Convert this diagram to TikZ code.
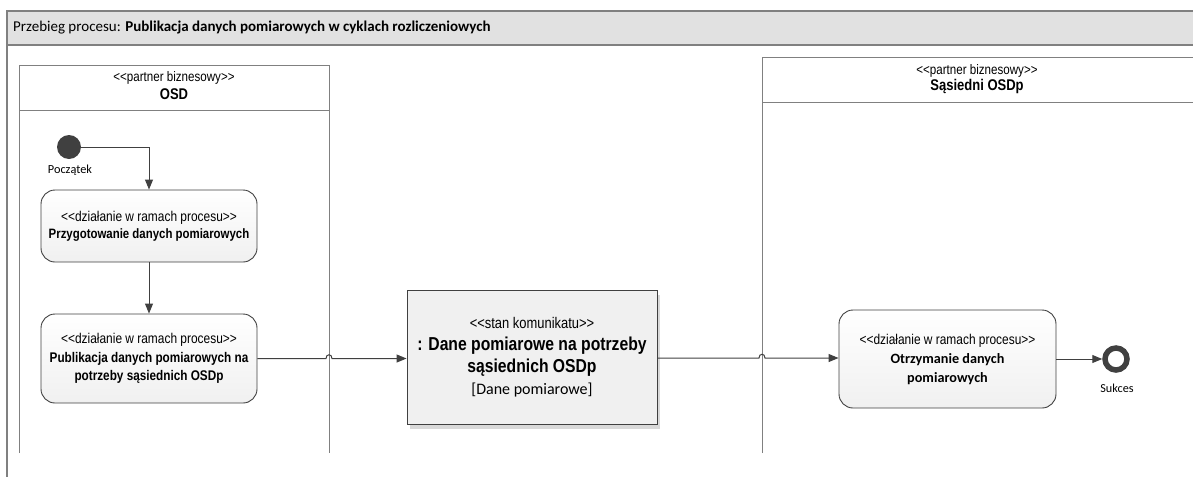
\documentclass[tikz,border=0pt]{standalone}
\usepackage{fontspec}
\setmainfont{Liberation Sans}
\newfontfamily\narrowf[FakeStretch=0.84]{Liberation Sans}
\newfontfamily\calf{Carlito}
\usetikzlibrary{arrows.meta}
\definecolor{lineC}{HTML}{404040}
\definecolor{laneC}{HTML}{808080}
\definecolor{headC}{HTML}{E1E1E1}
\definecolor{boxC}{HTML}{F0F0F0}
\tikzset{
  actbox/.style={draw=lineC, line width=0.9pt, rounded corners=14pt, top color=white, bottom color=boxC, minimum width=216pt, align=center, inner sep=0pt},
  msgbox/.style={draw=lineC, line width=0.9pt, fill=boxC, minimum width=250pt, minimum height=134pt, align=center, inner sep=0pt},
  lane/.style={draw=laneC, line width=0.8pt},
  flow/.style={draw=lineC, line width=1pt, -{Triangle[length=10pt,width=8pt]}},
  stereo/.style={font=\narrowf\fontsize{13.8}{16}\selectfont},
  lanename/.style={font=\narrowf\bfseries\fontsize{15.5}{18}\selectfont},
}
\begin{document}
\begin{tikzpicture}[x=1pt,y=-1pt]
\useasboundingbox (0,0) rectangle (1193,477);
% frame
\fill[headC] (7,11) rectangle (1193,45);
\draw[draw=laneC, line width=1.6pt] (1193,11) -- (7,11) -- (7,477);
\draw[draw=laneC, line width=1.6pt] (7,45) -- (1193,45);
\node[anchor=west, font=\calf\fontsize{15}{18}\selectfont, inner sep=0pt] (title) at (13,28) {Przebieg procesu: \textbf{Publikacja danych pomiarowych w cyklach rozliczeniowych}};
% lanes
\draw[lane] (19,453) -- (19,65) -- (329,65) -- (329,453);
\draw[lane] (19,110) -- (329,110);
\node[stereo] (l1s) at (174,78) {<<partner biznesowy>>};
\node[lanename] (l1n) at (174,94) {OSD};
\draw[lane] (762,453) -- (762,57) -- (1193,57);
\draw[lane] (762,102) -- (1193,102);
\node[stereo] (l2s) at (977,71) {<<partner biznesowy>>};
\node[lanename] (l2n) at (977,86) {Sąsiedni OSDp};
% start
\node[circle, fill=lineC, minimum size=24pt, inner sep=0pt] (start) at (69,147) {};
\node[font=\calf\fontsize{12.3}{14}\selectfont] (startl) at (70,170) {Początek};
% boxes
\node[actbox, minimum height=72pt, font=\narrowf\fontsize{14.2}{17}\selectfont] (b1) at (149,226) {<<działanie w ramach procesu>>\\{\bfseries\fontsize{13.6}{17}\selectfont Przygotowanie danych pomiarowych}};
\node[actbox, minimum height=89pt, font=\narrowf\fontsize{14.2}{18.5}\selectfont] (b2) at (149,358.5) {<<działanie w ramach procesu>>\\{\bfseries\fontsize{14}{18.5}\selectfont Publikacja danych pomiarowych na}\\{\bfseries\fontsize{14}{18.5}\selectfont potrzeby sąsiednich OSDp}};
\fill[gray!30] (410,295) rectangle (660,429);
\node[msgbox, font=\narrowf\fontsize{15.4}{22}\selectfont] (msg) at (532,357) {<<stan komunikatu>>\\{\bfseries\fontsize{18.7}{22}\selectfont : Dane pomiarowe na potrzeby}\\{\bfseries\fontsize{18.7}{22}\selectfont sąsiednich OSDp}\\{\calf\fontsize{16}{22}\selectfont [Dane pomiarowe]}};
\node[actbox, minimum width=217pt, minimum height=98pt, font=\narrowf\fontsize{14.2}{19}\selectfont] (b3) at (947.5,359) {<<działanie w ramach procesu>>\\{\calf\bfseries\fontsize{14.2}{19}\selectfont Otrzymanie danych}\\{\calf\bfseries\fontsize{14.2}{19}\selectfont pomiarowych}};
% end
\node[circle, draw=lineC, line width=5.5pt, fill=white, minimum size=22pt, inner sep=0pt] (end) at (1116,359) {};
\node[font=\calf\fontsize{12.2}{14}\selectfont] (endl) at (1117,388) {Sukces};
% flows
\coordinate (j1) at (329,358.5);
\coordinate (j2) at (762,358);
\draw[flow] (start.east) -| (b1.north);
\draw[flow] (b1.south) -- (b2.north);
\draw[flow] (b2.east) -- ([xshift=-3pt]j1) .. controls ([xshift=-3pt,yshift=5pt]j1) and ([xshift=3pt,yshift=5pt]j1) .. ([xshift=3pt]j1) -- (j1 -| msg.west);
\draw[flow] (j2 -| msg.east) -- ([xshift=-3pt]j2) .. controls ([xshift=-3pt,yshift=5pt]j2) and ([xshift=3pt,yshift=5pt]j2) .. ([xshift=3pt]j2) -- (j2 -| b3.west);
\draw[flow] (b3.east) -- (end.west);
\end{tikzpicture}
\end{document}
